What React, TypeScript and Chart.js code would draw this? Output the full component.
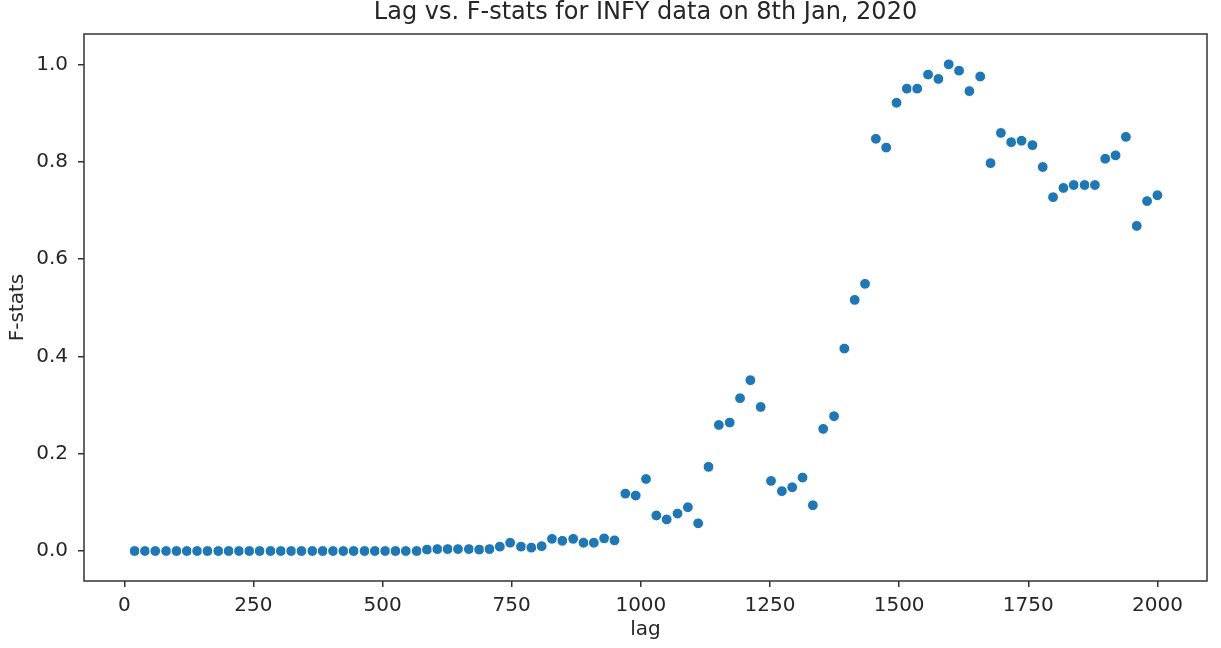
import { useEffect, useRef } from "react";
import { Chart, registerables } from "chart.js";

Chart.register(...registerables);

const lags = [
  20, 40, 60, 81, 101, 121, 141, 161, 182, 202, 222, 242, 262, 283, 303, 323, 343, 364, 384, 404,
  424, 444, 465, 485, 505, 525, 545, 566, 586, 606, 626, 646, 667, 687, 707, 727, 747, 768, 788, 808,
  828, 848, 869, 889, 909, 929, 949, 970, 990, 1010, 1030, 1050, 1071, 1091, 1111, 1131, 1151, 1172, 1192, 1212,
  1232, 1252, 1273, 1293, 1313, 1333, 1353, 1374, 1394, 1414, 1434, 1455, 1475, 1495, 1515, 1535, 1556, 1576, 1596, 1616,
  1636, 1657, 1677, 1697, 1717, 1737, 1758, 1778, 1798, 1818, 1838, 1859, 1879, 1899, 1919, 1939, 1960, 1980, 2000,
];

const fstats = [
  0, 0, 0, 0, 0, 0, 0, 0, 0, 0, 0, 0, 0, 0, 0, 0, 0, 0, 0, 0,
  0, 0, 0, 0, 0, 0, 0, 0, 0.003, 0.004, 0.004, 0.004, 0.004, 0.003, 0.004, 0.009, 0.017, 0.009, 0.007, 0.01,
  0.025, 0.021, 0.025, 0.017, 0.017, 0.026, 0.022, 0.118, 0.114, 0.148, 0.073, 0.065, 0.077, 0.09, 0.057, 0.173, 0.259, 0.264, 0.314, 0.351,
  0.296, 0.144, 0.123, 0.131, 0.151, 0.094, 0.251, 0.277, 0.416, 0.516, 0.549, 0.847, 0.829, 0.921, 0.95, 0.95, 0.979, 0.97, 1.0, 0.987,
  0.945, 0.975, 0.797, 0.859, 0.84, 0.843, 0.834, 0.789, 0.727, 0.746, 0.752, 0.752, 0.752, 0.806, 0.813, 0.851, 0.668, 0.719, 0.731,
];

const xTicks = [0, 250, 500, 750, 1000, 1250, 1500, 1750, 2000];
const yTicks = [0, 0.2, 0.4, 0.6, 0.8, 1.0];

const FONT = "'DejaVu Sans', sans-serif";
const INK = "#262626";

export default function App() {
  const ref = useRef<HTMLCanvasElement>(null);

  useEffect(() => {
    document.body.style.margin = "0";
    const frame = {
      id: "frame",
      afterDraw(chart: any) {
        const { ctx, chartArea } = chart;
        ctx.save();
        ctx.strokeStyle = "#333";
        ctx.lineWidth = 1.5;
        ctx.strokeRect(chartArea.left, chartArea.top, chartArea.right - chartArea.left, chartArea.bottom - chartArea.top);
        ctx.restore();
      },
    };
    const chart = new Chart(ref.current!, {
      type: "scatter",
      data: {
        datasets: [
          {
            data: lags.map((x, i) => ({ x, y: fstats[i] })),
            backgroundColor: "#1f77b4",
            borderColor: "#ffffff",
            borderWidth: 1,
            pointRadius: 5.4,
            pointHoverRadius: 5.4,
          },
        ],
      },
      plugins: [frame],
      options: {
        animation: false,
        responsive: true,
        maintainAspectRatio: false,
        layout: { padding: { left: 0, right: 14, top: 0, bottom: 0 } },
        plugins: {
          legend: { display: false },
          tooltip: { enabled: false },
          title: {
            display: true,
            text: "Lag vs. F-stats for INFY data on 8th Jan, 2020",
            fullSize: false,
            color: INK,
            font: { family: FONT, size: 24, weight: "normal", lineHeight: 1 },
            padding: { top: 0.5, bottom: 9.5 },
          },
        },
        scales: {
          x: {
            type: "linear",
            min: -78,
            max: 2096,
            afterBuildTicks: (s: any) => {
              s.ticks = xTicks.map((v) => ({ value: v }));
            },
            afterFit: (s: any) => {
              s.height = 67;
            },
            ticks: {
              color: INK,
              padding: 7,
              font: { family: FONT, size: 20, lineHeight: 1.2 },
              maxRotation: 0,
              autoSkip: false,
              callback: (v: any) => String(v),
            },
            grid: { drawOnChartArea: false, drawTicks: true, tickLength: 6, color: "#333", lineWidth: 1.5 },
            border: { display: false },
            title: {
              display: true,
              text: "lag",
              color: INK,
              font: { family: FONT, size: 20, lineHeight: 1 },
              padding: { top: 0, bottom: 8 },
            },
          },
          y: {
            type: "linear",
            min: -0.0616,
            max: 1.0623,
            afterBuildTicks: (s: any) => {
              s.ticks = yTicks.map((v) => ({ value: v }));
            },
            afterFit: (s: any) => {
              s.width = 84;
            },
            ticks: {
              color: INK,
              padding: 10,
              font: { family: FONT, size: 20, lineHeight: 1.2 },
              autoSkip: false,
              callback: (v: any) => Number(v).toFixed(1),
            },
            grid: { drawOnChartArea: false, drawTicks: true, tickLength: 6, color: "#333", lineWidth: 1.5 },
            border: { display: false },
            title: {
              display: true,
              text: "F-stats",
              color: INK,
              font: { family: FONT, size: 20, lineHeight: 1 },
              padding: { top: 7.6, bottom: 0 },
            },
          },
        },
      },
    } as any);
    return () => chart.destroy();
  }, []);

  return (
    <div style={{ position: "fixed", left: 0, top: 0, width: 1221, height: 648, background: "#ffffff" }}>
      <canvas ref={ref} />
    </div>
  );
}
